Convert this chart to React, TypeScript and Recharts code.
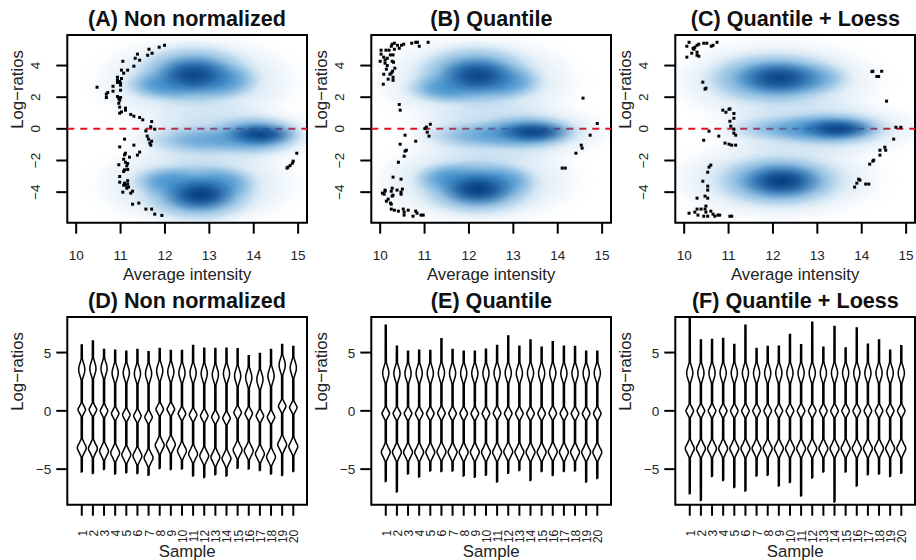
import { ScatterChart, Scatter, XAxis, YAxis, ReferenceLine, ReferenceArea } from 'recharts'

type Pt = [number, number]
// x, y, radius in x, radius in y, weight
type Kernel = [number, number, number, number, number]

const FONT = '"Liberation Sans", Arial, sans-serif'
const SAMPLES = Array.from({ length: 20 }, (_, i) => i + 1)

const MA_X_DOMAIN: Pt = [9.8, 15.2]
const MA_Y_DOMAIN: Pt = [-5.93, 5.93]
const MA_X_TICKS = [10, 11, 12, 13, 14, 15]
const MA_Y_TICKS = [-4, -2, 0, 2, 4]
const VIO_X_DOMAIN: Pt = [-0.3, 21.23]
const VIO_Y_DOMAIN: Pt = [-8.05, 8.05]
const VIO_Y_TICKS = [-5, 0, 5]

const PLOT_W = 239.4
const PLOT_H = 187.7

const DOTS_A: Pt[] = [[11.99,5.28],[11.87,5.16],[11.64,5.03],[11.71,4.78],[11.61,4.65],[11.38,4.72],[11.33,4.46],[11.43,4.34],[11.05,4.27],[11.3,3.96],[11.16,3.71],[11.02,3.71],[11.07,3.52],[10.93,3.26],[11.02,3.18],[10.93,3.07],[10.98,2.99],[10.93,2.93],[11,2.88],[11,2.76],[10.83,2.69],[10.47,2.63],[10.71,2.29],[10.68,2.19],[10.83,2.38],[11,2.44],[10.68,1.98],[10.93,2.04],[11,1.98],[10.96,1.92],[10.98,1.81],[10.96,1.62],[10.98,1.37],[11.11,1.31],[11.11,1.18],[11.02,1.07],[10.98,0.99],[11.23,0.91],[11.3,0.8],[11.43,0.72],[11.5,0.57],[11.7,0.46],[11.68,0.13],[11.77,-0.02],[11.57,-0.13],[11.6,-0.46],[11.63,-0.65],[11.7,-0.78],[11.66,-0.9],[11.68,-1.03],[11.09,-0.65],[10.98,-1.14],[11.3,-1.03],[11.43,-1.47],[11.38,-1.66],[11.11,-1.54],[11.09,-1.64],[11.2,-1.79],[10.96,-2.27],[11.07,-1.92],[11.11,-2.11],[11.16,-2.19],[11.14,-2.34],[11.16,-2.57],[11.09,-2.59],[11.07,-2.69],[10.98,-3.01],[10.98,-3.37],[11.16,-3.28],[11.16,-3.49],[11.09,-3.43],[11.11,-3.56],[11.18,-3.68],[11.07,-3.56],[11.14,-3.75],[11.05,-4],[11.27,-3.94],[11.23,-4.06],[11.27,-4.76],[11.41,-4.69],[11.57,-5.07],[11.7,-5.07],[11.77,-5.39],[11.93,-5.47],[14.75,-2.48],[14.77,-2.42],[14.82,-2.32],[14.87,-2.17],[14.89,-2.04],[14.97,-1.54]]
const DOTS_B: Pt[] = [[11.08,5.47],[10.8,5.47],[10.71,5.41],[10.84,5.47],[10.88,5.22],[10.53,5.35],[10.48,5.28],[10.43,5.09],[10.39,5.28],[10.32,5.41],[10.27,5.35],[10.25,5.22],[10.32,5.03],[10.2,4.97],[10.13,4.97],[10.02,4.97],[10.02,4.72],[10.08,4.53],[10.16,4.46],[10.23,4.67],[10.29,4.67],[10,4.27],[10.11,4.34],[10.11,4.15],[10.16,4],[10.27,4.27],[10.3,4.21],[10.33,3.83],[10.14,3.77],[10.25,3.52],[10.08,3.45],[10.22,3.45],[10.28,3.64],[10.18,3.14],[10.29,3.26],[10.29,3.07],[10.07,2.82],[10.43,1.54],[10.45,1.18],[11.13,0.29],[11.04,0.11],[11.01,0.02],[11.06,-0.21],[11.1,-0.46],[10.56,-0.4],[10.8,-0.78],[10.45,-0.97],[10.59,-1.35],[10.56,-1.41],[10.54,-1.73],[10.41,-2.11],[10.29,-3.05],[10.47,-3.18],[10.27,-3.75],[10.25,-3.94],[10.11,-3.87],[10.38,-3.87],[10.5,-3.81],[10.47,-4],[10.05,-4.06],[10.09,-4.13],[10.11,-3.94],[10.47,-4.13],[10.29,-4.19],[10.27,-4.25],[10.18,-4.44],[10.14,-4.57],[10.23,-4.69],[10.25,-4.76],[10.25,-5.07],[10.32,-5.14],[10.41,-5.2],[10.52,-5.07],[10.54,-5.26],[10.54,-5.45],[10.63,-5.14],[10.74,-5.52],[10.8,-5.2],[10.83,-5.33],[10.92,-5.45],[10.97,-5.45],[14.57,1.94],[14.89,0.34],[14.73,-0.4],[14.53,-1.03],[14.55,-1.22],[14.41,-1.54],[14.1,-2.48],[14.17,-2.48]]
const DOTS_C: Pt[] = [[10.11,5.47],[10.06,5.22],[10.29,5.28],[10.33,5.35],[10.24,5.16],[10.22,5.03],[10.2,5.09],[10.44,5.41],[10.51,5.41],[10.65,5.28],[10.61,5.22],[10.74,5.47],[10.17,4.78],[10.06,4.53],[10.29,4.84],[10.29,4.65],[10.33,4.59],[10.42,2.95],[10.49,2.57],[10.47,2.51],[10.87,1.18],[10.94,1.05],[11.01,1.24],[11.03,1.26],[11.12,0.97],[11.12,0.67],[11.03,0.48],[11.05,0.17],[11.12,-0.02],[11.12,-0.27],[11.16,-0.4],[10.56,-0.15],[10.78,-0.46],[10.44,-0.72],[10.92,-0.9],[11.01,-0.97],[11.07,-1.03],[11.16,-1.03],[10.6,-2.29],[10.56,-2.42],[10.53,-2.74],[10.42,-3.31],[10.53,-3.62],[10.53,-3.87],[10.47,-4.25],[10.53,-4.38],[10.29,-4.38],[10.49,-4.88],[10.47,-5.07],[10.38,-5.07],[10.29,-5.07],[10.24,-5.26],[10.11,-5.33],[10.31,-5.45],[10.44,-5.52],[10.53,-5.52],[10.49,-5.26],[10.6,-5.2],[10.65,-5.39],[10.69,-5.52],[10.76,-5.45],[10.8,-5.45],[11.03,-5.52],[11.07,-5.52],[14.23,3.62],[14.25,3.64],[14.45,3.64],[14.34,3.31],[14.38,3.31],[14.56,1.75],[14.77,0.1],[14.88,0.1],[14.72,-0.65],[14.52,-1.16],[14.54,-1.35],[14.41,-1.35],[14.41,-1.66],[14.27,-1.98],[14.25,-2.04],[14.18,-2.23],[13.93,-3.18],[13.96,-3.24],[13.89,-3.43],[13.84,-3.68],[14.09,-3.49],[14.16,-3.49]]

const HAZE_A: Kernel[] = [[12.7,3,2.7,3.4,0.35],[13.4,-0.4,2.7,2.2,0.35],[12.7,-3.5,2.7,3.2,0.35]]
const LIGHT_A: Kernel[] = [[12.65,3.45,1.55,2.15,1],[11.95,2.75,1.05,1.1,0.75],[13.3,3.05,1,1.3,0.7],[12.9,-0.7,1.6,1.1,0.6],[14.05,-0.4,1.25,1.45,1],[12.75,-4.05,1.5,2.15,1],[12.05,-3.3,0.95,1.1,0.7],[13.3,-3.4,0.9,1.2,0.6]]
const DARK_A: Kernel[] = [[12.65,3.4,1,1.35,0.9],[14.15,-0.35,0.95,0.85,0.9],[12.8,-4.15,0.95,1.25,1]]

const HAZE_B: Kernel[] = [[12.2,3,2.7,3.4,0.35],[12.9,-0.2,2.7,2.2,0.35],[12.2,-3.3,2.7,3.2,0.35]]
const LIGHT_B: Kernel[] = [[12.15,3.4,1.55,2.2,1],[11.45,2.55,1.05,1.1,0.75],[12.85,2.95,1,1.25,0.7],[12.4,-0.4,1.7,1.05,0.6],[13.35,-0.2,1.35,1.3,1],[12.2,-3.7,1.5,2.05,1],[11.55,-3.1,0.95,1.1,0.7],[12.75,-3.3,0.9,1.15,0.6]]
const DARK_B: Kernel[] = [[12.2,3.35,1,1.35,0.9],[13.45,-0.2,1,0.8,0.9],[12.2,-3.8,0.95,1.25,1]]

const HAZE_C: Kernel[] = [[12.1,3,2.8,3.1,0.35],[13,0,2.8,2.2,0.35],[12.1,-3.2,2.8,3,0.35]]
const LIGHT_C: Kernel[] = [[12.05,3.2,1.8,1.9,1],[12.9,3.2,1,1.1,0.45],[12.5,0,1.8,1,0.6],[13.35,0,1.45,1.25,1],[12.15,-3.3,1.65,1.9,1]]
const DARK_C: Kernel[] = [[12.15,3.2,1.1,1.25,0.9],[13.45,0,1,0.78,0.9],[12.2,-3.3,1.05,1.25,1]]

const TOP_D = [5.64,6,5.26,5.2,5.12,5.26,5.06,5.35,5.18,5.18,5.6,5.38,5.35,5.38,5.32,4.72,4.92,5.26,5.7,5.52]
const BOTTOM_D = [-5.24,-5.38,-5.04,-5.41,-5.32,-5.38,-5.52,-4.95,-5.04,-4.98,-5.58,-5.72,-5.49,-5.58,-4.92,-4.98,-5.12,-5.41,-5.55,-5.21]
const UPPER_D = [3.55,3.63,3.63,3.26,3.26,3.2,3.2,3.43,3.35,3.26,3.26,3.2,3.12,3.2,3,2.86,2.69,3,3.92,3.69]
const MID_D = [0.11,0.11,0,-0.23,-0.34,-0.43,-0.54,0.14,0.14,-0.23,-0.34,-0.43,-0.54,-0.63,-0.14,-0.23,-0.43,-0.54,0.4,0.29]
const LOWER_D = [-3.18,-3.23,-3.46,-3.6,-3.75,-3.86,-4.03,-2.95,-2.89,-3.43,-3.69,-3.86,-3.98,-4.09,-3.35,-3.43,-3.69,-3.95,-2.89,-3.06]

const TOP_E = [7.35,5.55,5.12,5.2,5.18,6.18,5.26,5.12,5.12,5.29,5.6,6.41,5.55,6.07,5.46,5.92,5.55,5.52,5.12,5.12]
const BOTTOM_E = [-6.07,-6.95,-5.41,-5.67,-5.15,-5.21,-5.15,-5.58,-5.69,-5.52,-6.1,-5.35,-5.12,-5.98,-5.21,-5.55,-5.21,-5.15,-6.1,-5.81]
const UPPER_E = [3.25,3.22,3.22,3.22,3.22,3.25,3.22,3.22,3.22,3.22,3.25,3.25,3.22,3.25,3.22,3.25,3.22,3.22,3.22,3.25]
const MID_E = [-0.23,-0.23,-0.23,-0.23,-0.23,-0.2,-0.23,-0.23,-0.23,-0.23,-0.2,-0.23,-0.23,-0.23,-0.23,-0.2,-0.23,-0.23,-0.23,-0.23]
const LOWER_E = [-3.55,-3.55,-3.55,-3.55,-3.55,-3.5,-3.55,-3.55,-3.55,-3.55,-3.55,-3.5,-3.55,-3.55,-3.55,-3.5,-3.55,-3.55,-3.55,-3.55]

const TOP_F = [8.05,6.07,6.12,6.2,5.7,7.35,5.35,5.52,5.55,6.55,5.67,7.6,5.46,7.24,5.4,7.1,5.72,6.07,5.2,5.58]
const BOTTOM_F = [-7.12,-7.7,-5.64,-5.98,-6.58,-6.87,-5.58,-5.52,-6.44,-6.15,-7.3,-5.75,-5.24,-7.81,-5.24,-6.44,-5.49,-5.41,-5.64,-5.35]
const UPPER_F = [3.25,3.25,3.25,3.25,3.25,3.25,3.25,3.25,3.25,3.25,3.25,3.25,3.25,3.25,3.25,3.25,3.25,3.25,3.25,3.25]
const MID_F = [0,0,0,0,0,0,0,0,0,0,0,0,0,0,0,0,0,0,0,0]
const LOWER_F = [-3.23,-3.23,-3.23,-3.23,-3.23,-3.23,-3.23,-3.23,-3.23,-3.23,-3.23,-3.23,-3.23,-3.23,-3.23,-3.23,-3.23,-3.23,-3.23,-3.23]

// half outline of a lump: offset from its centre, half width in sample units
const UPPER_LUMP: Pt[] = [[-0.9,0.05],[-0.6,0.14],[-0.25,0.25],[0,0.28],[0.25,0.25],[0.6,0.14],[0.9,0.05]]
const MID_LUMP: Pt[] = [[-0.58,0.05],[-0.3,0.2],[-0.08,0.32],[0,0.34],[0.08,0.32],[0.3,0.2],[0.58,0.05]]
const LOWER_LUMP: Pt[] = [[-0.78,0.05],[-0.42,0.22],[-0.12,0.38],[0,0.4],[0.12,0.38],[0.42,0.22],[0.78,0.05]]
const STEM = 0.045

function violinOutline(s: number, top: number, bottom: number, upper: number, mid: number, lower: number) {
  const side: Pt[] = [
    [STEM, bottom],
    ...LOWER_LUMP.map(([dy, w]): Pt => [w, lower + dy]),
    ...MID_LUMP.map(([dy, w]): Pt => [w, mid + dy]),
    ...UPPER_LUMP.map(([dy, w]): Pt => [w, upper + dy]),
    [STEM, top],
  ]
  const right = side.map(([w, y]) => ({ x: s + w, y }))
  const left = side.map(([w, y]) => ({ x: s - w, y })).reverse()
  return [...right, ...left, right[0]]
}

const toPts = (pts: Pt[]) => pts.map(([x, y]) => ({ x, y }))
const toKernels = (ks: Kernel[]) => ks.map(([x, y, rx, ry, w]) => ({ x, y, rx, ry, w }))

const sx = PLOT_W / (MA_X_DOMAIN[1] - MA_X_DOMAIN[0])
const sy = PLOT_H / (MA_Y_DOMAIN[1] - MA_Y_DOMAIN[0])

const blob = (fill: string, clip: string) => (props: any) => {
  const { cx, cy, payload } = props
  return (
    <ellipse cx={cx} cy={cy} rx={payload.rx * sx} ry={payload.ry * sy} fill={fill} fillOpacity={payload.w} clipPath={clip} />
  )
}

const dot = (props: any) => <rect x={props.cx - 1.5} y={props.cy - 1.5} width={3} height={3} fill="#000" />

const noDot = () => null

const maXTick = ({ x, y, payload }: any) => (
  <text x={x} y={y + 24} textAnchor="middle" fontSize={13.5} fontFamily={FONT} fill="#222">{payload.value}</text>
)
const maYTick = ({ x, y, payload }: any) => (
  <text x={x - 14} y={y} transform={`rotate(-90 ${x - 14} ${y})`} textAnchor="middle" fontSize={13.5} fontFamily={FONT} fill="#222">
    {String(payload.value).replace('-', '\u2212')}
  </text>
)
const vioXTick = ({ x, y, payload }: any) => (
  <text x={x + 5} y={y + 12} transform={`rotate(-90 ${x + 5} ${y + 12})`} textAnchor="end" fontSize={12} fontFamily={FONT} fill="#222">{payload.value}</text>
)
const vioYTick = ({ x, y, payload }: any) => (
  <text x={x - 3} y={y + 5} textAnchor="end" fontSize={13.5} fontFamily={FONT} fill="#222">
    {String(payload.value).replace('-', '\u2212')}
  </text>
)

const tickLine = { stroke: '#000', strokeWidth: 2 }
const axisTitle = { fontSize: 16.8, fontFamily: FONT, fill: '#222' }

function Title({ text }: { text: string }) {
  return (
    <div style={{ position: 'absolute', left: 0, top: 0, width: PLOT_W, marginLeft: 67.3, textAlign: 'center', fontFamily: FONT, fontWeight: 700, fontSize: 21.6, lineHeight: '22px', whiteSpace: 'nowrap', color: '#111' }}>
      {text}
    </div>
  )
}

function MAPanel({ id, left, title, dots, haze, light, dark }: { id: string; left: number; title: string; dots: Pt[]; haze: Kernel[]; light: Kernel[]; dark: Kernel[] }) {
  const clip = `url(#frame${id})`
  return (
    <div style={{ position: 'absolute', left, top: 0, width: 309, height: 285 }}>
      <div style={{ position: 'absolute', left: 0, top: 8, width: 309 }}><Title text={title} /></div>
      <ScatterChart width={309} height={285} margin={{ top: 35, right: 2, bottom: 0, left: 0 }}>
        <defs>
          <clipPath id={`frame${id}`}>
            <rect x={67.3} y={35} width={PLOT_W} height={PLOT_H} />
          </clipPath>
          <radialGradient id={`light${id}`}>
            <stop offset="0%" stopColor="#2f86c8" stopOpacity={1} />
            <stop offset="30%" stopColor="#2f86c8" stopOpacity={0.8} />
            <stop offset="60%" stopColor="#2f86c8" stopOpacity={0.36} />
            <stop offset="85%" stopColor="#2f86c8" stopOpacity={0.07} />
            <stop offset="100%" stopColor="#2f86c8" stopOpacity={0} />
          </radialGradient>
          <radialGradient id={`dark${id}`}>
            <stop offset="0%" stopColor="#083d80" stopOpacity={1} />
            <stop offset="30%" stopColor="#083d80" stopOpacity={0.75} />
            <stop offset="60%" stopColor="#083d80" stopOpacity={0.3} />
            <stop offset="85%" stopColor="#083d80" stopOpacity={0.05} />
            <stop offset="100%" stopColor="#083d80" stopOpacity={0} />
          </radialGradient>
        </defs>
        <XAxis type="number" dataKey="x" domain={MA_X_DOMAIN} ticks={MA_X_TICKS} interval={0} allowDataOverflow height={62.3} tickSize={11} tickLine={tickLine} axisLine={false} tick={maXTick}
          label={{ value: 'Average intensity', position: 'insideBottom', offset: 5, ...axisTitle }} />
        <YAxis type="number" dataKey="y" domain={MA_Y_DOMAIN} ticks={MA_Y_TICKS} interval={0} allowDataOverflow width={67.3} tickSize={11} tickLine={tickLine} axisLine={false} tick={maYTick}
          label={{ value: 'Log\u2212ratios', angle: -90, position: 'insideLeft', offset: 17, ...axisTitle }} />
        <Scatter data={toKernels(haze)} shape={blob(`url(#light${id})`, clip)} isAnimationActive={false} />
        <Scatter data={toKernels(light)} shape={blob(`url(#light${id})`, clip)} isAnimationActive={false} />
        <Scatter data={toKernels(dark)} shape={blob(`url(#dark${id})`, clip)} isAnimationActive={false} />
        <ReferenceLine y={0} stroke="#e3101f" strokeWidth={2} strokeDasharray="7 6" />
        <Scatter data={toPts(dots)} shape={dot} isAnimationActive={false} />
        <ReferenceArea x1={MA_X_DOMAIN[0]} x2={MA_X_DOMAIN[1]} y1={MA_Y_DOMAIN[0]} y2={MA_Y_DOMAIN[1]} fill="none" stroke="#000" strokeWidth={2} />
      </ScatterChart>
    </div>
  )
}

function ViolinPanel({ left, title, top, bottom, upper, mid, lower }: { left: number; title: string; top: number[]; bottom: number[]; upper: number[]; mid: number[]; lower: number[] }) {
  return (
    <div style={{ position: 'absolute', left, top: 281.7, width: 309, height: 278 }}>
      <div style={{ position: 'absolute', left: 0, top: 8, width: 309 }}><Title text={title} /></div>
      <ScatterChart width={309} height={278} margin={{ top: 35, right: 2, bottom: 0, left: 0 }}>
        <XAxis type="number" dataKey="x" domain={VIO_X_DOMAIN} ticks={SAMPLES} interval={0} allowDataOverflow height={55.3} tickSize={11} tickLine={tickLine} axisLine={false} tick={vioXTick}
          label={{ value: 'Sample', position: 'insideBottom', offset: 3, ...axisTitle }} />
        <YAxis type="number" dataKey="y" domain={VIO_Y_DOMAIN} ticks={VIO_Y_TICKS} interval={0} allowDataOverflow width={67.3} tickSize={11} tickLine={tickLine} axisLine={false} tick={vioYTick}
          label={{ value: 'Log\u2212ratios', angle: -90, position: 'insideLeft', offset: 17, ...axisTitle }} />
        {SAMPLES.map((s, i) => (
          <Scatter key={s} data={violinOutline(s, top[i], bottom[i], upper[i], mid[i], lower[i])} line={{ stroke: '#000', strokeWidth: 1.5 }} shape={noDot} isAnimationActive={false} />
        ))}
        <ReferenceArea x1={VIO_X_DOMAIN[0]} x2={VIO_X_DOMAIN[1]} y1={VIO_Y_DOMAIN[0]} y2={VIO_Y_DOMAIN[1]} fill="none" stroke="#000" strokeWidth={2} />
      </ScatterChart>
    </div>
  )
}

export default function App() {
  return (
    <div style={{ position: 'absolute', left: 0, top: 0, width: 916, height: 560, overflow: 'hidden', background: '#fff' }}>
      <MAPanel id="a" left={0} title="(A) Non normalized" dots={DOTS_A} haze={HAZE_A} light={LIGHT_A} dark={DARK_A} />
      <MAPanel id="b" left={304.4} title="(B) Quantile" dots={DOTS_B} haze={HAZE_B} light={LIGHT_B} dark={DARK_B} />
      <MAPanel id="c" left={608.4} title="(C) Quantile + Loess" dots={DOTS_C} haze={HAZE_C} light={LIGHT_C} dark={DARK_C} />
      <ViolinPanel left={0} title="(D) Non normalized" top={TOP_D} bottom={BOTTOM_D} upper={UPPER_D} mid={MID_D} lower={LOWER_D} />
      <ViolinPanel left={304.4} title="(E) Quantile" top={TOP_E} bottom={BOTTOM_E} upper={UPPER_E} mid={MID_E} lower={LOWER_E} />
      <ViolinPanel left={608.4} title="(F) Quantile + Loess" top={TOP_F} bottom={BOTTOM_F} upper={UPPER_F} mid={MID_F} lower={LOWER_F} />
    </div>
  )
}
